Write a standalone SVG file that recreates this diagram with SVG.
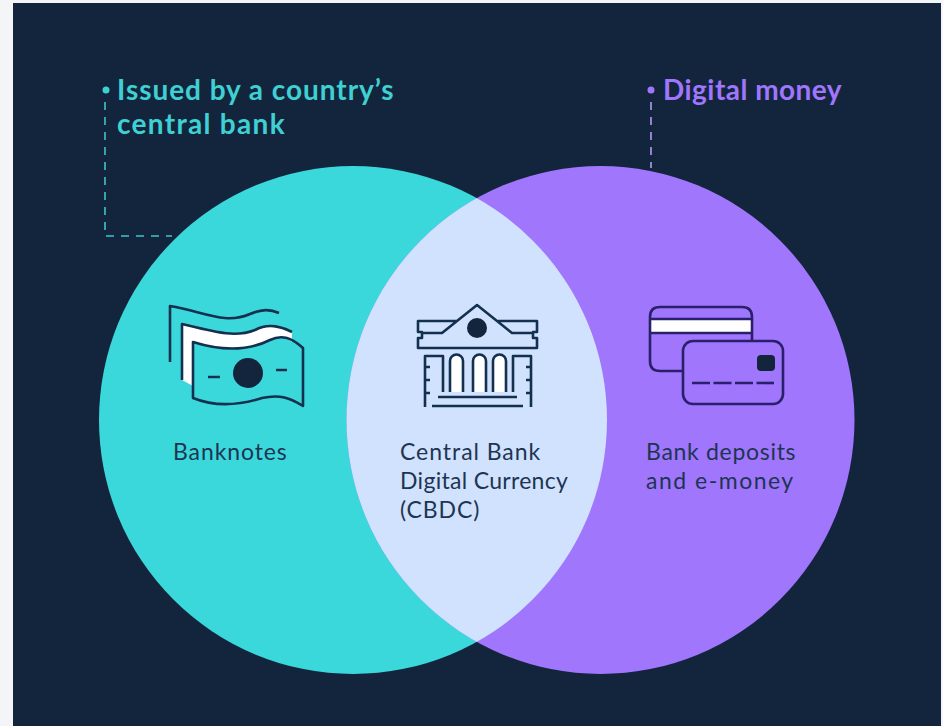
<svg xmlns="http://www.w3.org/2000/svg" width="943" height="726" viewBox="0 0 943 726">
<style>
.head{font-family:"Lato","Noto Sans",sans-serif;font-weight:700;font-size:28px}
.lab{font-family:"Lato","Noto Sans",sans-serif;font-size:23px;fill:#1d3552}
.ln{fill:none;stroke:#14304f;stroke-width:2.6;stroke-linejoin:round}
.d{fill:none;stroke-width:1.6;stroke-dasharray:8 7}
</style>
<defs><clipPath id="cl"><circle cx="353" cy="420" r="254"/></clipPath></defs>
<rect width="943" height="726" fill="#f4f5f6"/>
<rect x="13" y="3" width="928" height="723" fill="#13253d"/>
<g id="circle-left"><circle cx="353" cy="420" r="254" fill="#3bd8db"/></g>
<g id="circle-right"><circle cx="600.500" cy="420" r="254" fill="#a076fd"/></g>
<g id="overlap"><circle cx="600.500" cy="420" r="254" fill="#d1e2fe" clip-path="url(#cl)"/></g>
<g id="connectors">
<path class="d" stroke="#3fc4c8" d="M105 102V236H172"/>
<path class="d" stroke="#b49cf0" d="M651 102V168"/>
</g>
<g id="label-central-bank">
<circle cx="106" cy="90" r="3.500" fill="#3fd0d3"/>
<text class="head" fill="#3fd0d3"><tspan x="117" y="100" style="letter-spacing:.95px">Issued by a country’s</tspan><tspan x="117" y="134" style="letter-spacing:1.3px">central bank</tspan></text>
</g>
<g id="label-digital">
<circle cx="651" cy="90" r="3.500" fill="#a076fd"/>
<text class="head" fill="#a076fd" x="663" y="100" style="letter-spacing:.46px">Digital money</text>
</g>
<g id="banknotes">
<path d="M182 324C215 332 235 338 255 330C268 323 280 326 292 332V342C285 337 278 335 270 340C250 350 225 352 193 342V386L182 380Z" fill="#fff"/>
<path class="ln" d="M170 362V306C205 312 225 325 250 314C262 309 270 309 279 313"/>
<path class="ln" d="M182 380V324C215 332 235 338 255 330C268 323 280 326 292 332"/>
<path class="ln" d="M193 398V342C225 352 250 350 270 340C282 334 292 338 303 348V406C290 398 280 394 262 398C240 405 215 407 193 398Z"/>
<circle cx="248" cy="373" r="15" fill="#13253d"/>
<path class="ln" d="M208 377H220M276 370H287"/>
<text class="lab" x="173" y="460" style="letter-spacing:.9px">Banknotes</text>
</g>
<g id="cbdc">
<path d="M450 392V361A6.500 6.500 0 0 1 463 361V392ZM473 392V361A6.500 6.500 0 0 1 486 361V392ZM493 392V361A6.500 6.500 0 0 1 506 361V392Z" fill="#fff"/>
<path class="ln" d="M422 333H442L477 305L512 333H533M457 321H418V332H422V338H418V348H537V338H533V332H537V321H498"/>
<circle cx="477" cy="328" r="10" fill="#13253d"/>
<path class="ln" d="M425 407V356H443V392M513 392V356H531V407M425 367H430M425 380H430M425 393H430M531 367H526M531 380H526M531 393H526"/>
<path class="ln" d="M450 392V361A6.500 6.500 0 0 1 463 361V392M473 392V361A6.500 6.500 0 0 1 486 361V392M493 392V361A6.500 6.500 0 0 1 506 361V392"/>
<path class="ln" d="M438 397H517M432 406H523"/>
<text class="lab"><tspan x="400" y="460" style="letter-spacing:.95px">Central Bank</tspan><tspan x="400" y="489" style="letter-spacing:.3px">Digital Currency</tspan><tspan x="400" y="518" style="letter-spacing:.9px">(CBDC)</tspan></text>
</g>
<g id="cards">
<rect x="650" y="319" width="102" height="14" fill="#fff"/>
<path class="ln" style="stroke:#2a1f6b" d="M683 371H660Q650 371 650 361V317Q650 307 660 307H742Q752 307 752 317V341M650 319H752M650 333H752"/>
<rect class="ln" style="stroke:#2a1f6b" x="683" y="341" width="100" height="63" rx="10"/>
<rect x="757" y="355" width="18" height="16" rx="4" fill="#13253d"/>
<path class="ln" style="stroke:#2a1f6b;stroke-dasharray:18 3.500" d="M692 383H774"/>
<text class="lab"><tspan x="646" y="460" style="letter-spacing:.7px">Bank deposits</tspan><tspan x="646" y="489" style="letter-spacing:1.5px">and e-money</tspan></text>
</g>
</svg>
